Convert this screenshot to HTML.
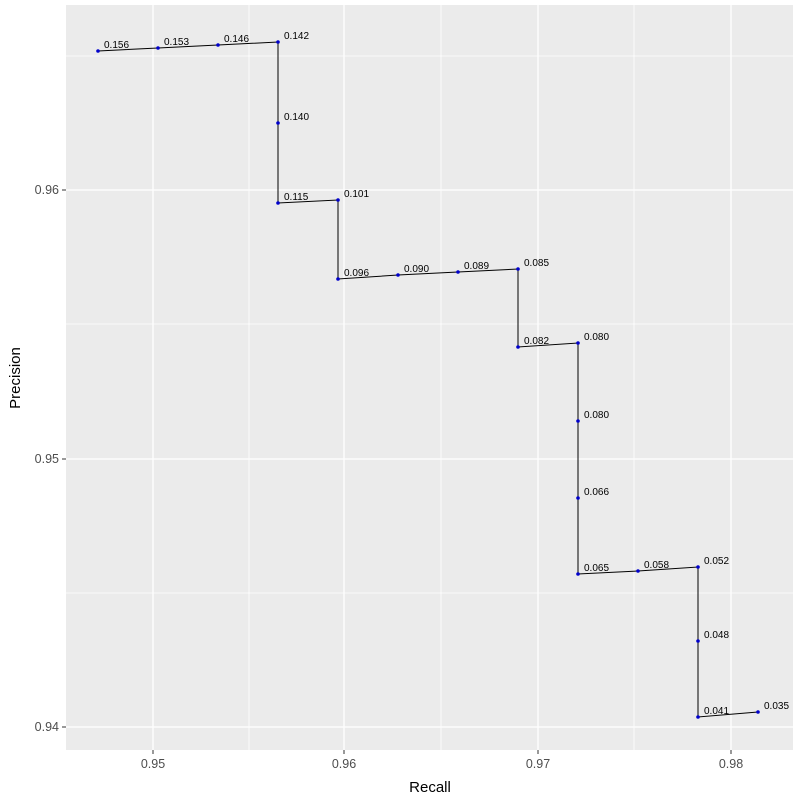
<!DOCTYPE html>
<html><head><meta charset="utf-8"><style>body{margin:0;background:#fff}svg{display:block}</style></head>
<body>
<svg width="800" height="800" xmlns="http://www.w3.org/2000/svg" font-family="Liberation Sans, sans-serif">
<rect x="0" y="0" width="800" height="800" fill="#fff"/>
<rect x="66" y="5" width="727" height="745" fill="#ebebeb"/>
<g stroke="#fff" stroke-width="0.8">
<line x1="249" y1="5" x2="249" y2="750"/><line x1="441" y1="5" x2="441" y2="750"/><line x1="634" y1="5" x2="634" y2="750"/>
<line x1="66" y1="56" x2="793" y2="56"/><line x1="66" y1="324" x2="793" y2="324"/><line x1="66" y1="593" x2="793" y2="593"/>
</g>
<g stroke="#fff" stroke-width="1.3">
<line x1="153" y1="5" x2="153" y2="750"/><line x1="344" y1="5" x2="344" y2="750"/><line x1="538" y1="5" x2="538" y2="750"/><line x1="731" y1="5" x2="731" y2="750"/>
<line x1="66" y1="190" x2="793" y2="190"/><line x1="66" y1="459" x2="793" y2="459"/><line x1="66" y1="727" x2="793" y2="727"/>
</g>
<polyline fill="none" stroke="#000" stroke-width="1" points="98,51 158,48 218,45 278,42 278,123 278,203 338,200 338,279 398,275 458,272 518,269 518,347 578,343 578,421 578,498 578,574 638,571 698,567 698,641 698,717 758,712"/>
<g fill="#0000cc">
<circle cx="98" cy="51" r="1.8"/><circle cx="158" cy="48" r="1.8"/><circle cx="218" cy="45" r="1.8"/><circle cx="278" cy="42" r="1.8"/><circle cx="278" cy="123" r="1.8"/><circle cx="278" cy="203" r="1.8"/><circle cx="338" cy="200" r="1.8"/><circle cx="338" cy="279" r="1.8"/><circle cx="398" cy="275" r="1.8"/><circle cx="458" cy="272" r="1.8"/><circle cx="518" cy="269" r="1.8"/><circle cx="518" cy="347" r="1.8"/><circle cx="578" cy="343" r="1.8"/><circle cx="578" cy="421" r="1.8"/><circle cx="578" cy="498" r="1.8"/><circle cx="578" cy="574" r="1.8"/><circle cx="638" cy="571" r="1.8"/><circle cx="698" cy="567" r="1.8"/><circle cx="698" cy="641" r="1.8"/><circle cx="698" cy="717" r="1.8"/><circle cx="758" cy="712" r="1.8"/>
</g>
<g font-size="10" fill="#000">
<text x="104" y="48">0.156</text><text x="164" y="45">0.153</text><text x="224" y="42">0.146</text><text x="284" y="39">0.142</text><text x="284" y="120">0.140</text><text x="284" y="200">0.115</text><text x="344" y="197">0.101</text><text x="344" y="276">0.096</text><text x="404" y="272">0.090</text><text x="464" y="269">0.089</text><text x="524" y="266">0.085</text><text x="524" y="344">0.082</text><text x="584" y="340">0.080</text><text x="584" y="418">0.080</text><text x="584" y="495">0.066</text><text x="584" y="571">0.065</text><text x="644" y="568">0.058</text><text x="704" y="564">0.052</text><text x="704" y="638">0.048</text><text x="704" y="714">0.041</text><text x="764" y="709">0.035</text>
</g>
<g stroke="#333" stroke-width="1">
<line x1="153" y1="750" x2="153" y2="754"/><line x1="344" y1="750" x2="344" y2="754"/><line x1="538" y1="750" x2="538" y2="754"/><line x1="731" y1="750" x2="731" y2="754"/>
<line x1="62" y1="190" x2="66" y2="190"/><line x1="62" y1="459" x2="66" y2="459"/><line x1="62" y1="727" x2="66" y2="727"/>
</g>
<g font-size="12.5" fill="#4d4d4d" text-anchor="middle">
<text x="153" y="768">0.95</text><text x="344" y="768">0.96</text><text x="538" y="768">0.97</text><text x="731" y="768">0.98</text>
</g>
<g font-size="12.5" fill="#4d4d4d" text-anchor="end">
<text x="59" y="194">0.96</text><text x="59" y="463">0.95</text><text x="59" y="731">0.94</text>
</g>
<text x="430" y="792" font-size="15" text-anchor="middle" fill="#000">Recall</text>
<text x="20" y="378" font-size="15" text-anchor="middle" fill="#000" transform="rotate(-90 20 378)">Precision</text>
</svg>
</body></html>
